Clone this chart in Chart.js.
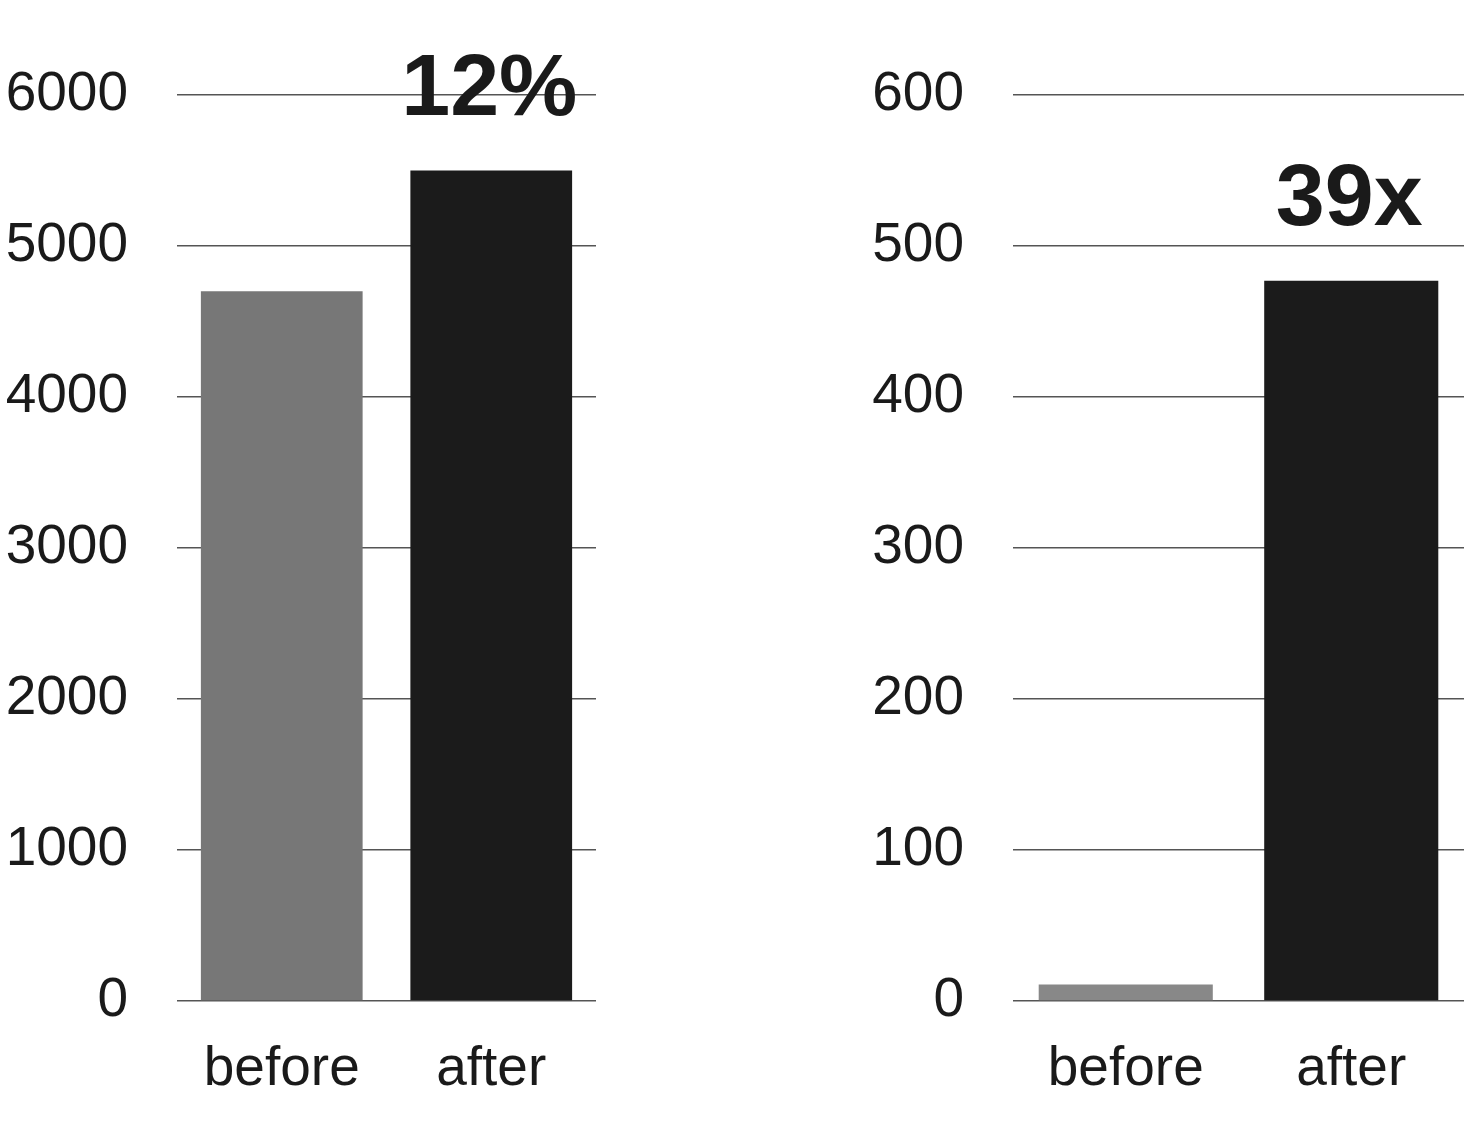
<!DOCTYPE html>
<html>
<head>
<meta charset="utf-8">
<script src="https://cdn.jsdelivr.net/npm/chart.js@4/dist/chart.umd.min.js"></script>
<style>
  html, body { margin: 0; padding: 0; background: #fff; }
  body { width: 1476px; height: 1146px; position: relative; overflow: hidden; }
  .box { position: absolute; top: 0; height: 1146px; }
  #leftBox { left: 0; width: 610px; }
  #rightBox { left: 840px; width: 636px; }
</style>
</head>
<body>
<div class="box" id="leftBox"><canvas id="leftChart"></canvas></div>
<div class="box" id="rightBox"><canvas id="rightChart"></canvas></div>
<script>
// values
const categories = ["before", "after"];
const leftValues = [4700, 5500];
const rightValues = [11, 477];
const leftMax = 6000, leftStep = 1000;
const rightMax = 600, rightStep = 100;
const callouts = ["12%", "39x"];

const leftColors = ["#777777", "#1b1b1b"];
const rightColors = ["#888888", "#1b1b1b"];

const FONT = "'Liberation Sans', Arial, sans-serif";
Chart.defaults.font.family = FONT;
Chart.defaults.color = "#1a1a1a";

// big bold text above the "after" bar
const calloutPlugin = {
  id: "callout",
  afterDatasetsDraw(chart, args, opts) {
    const bar = chart.getDatasetMeta(0).data[1];
    const ctx = chart.ctx;
    ctx.save();
    ctx.font = "bold 88px " + FONT;
    ctx.fillStyle = "#1a1a1a";
    ctx.textAlign = "center";
    ctx.textBaseline = "alphabetic";
    ctx.fillText(opts.text, bar.x - 2, bar.y - 56);
    ctx.restore();
  }
};

function makeChart(id, values, colors, max, step, yWidth, padRight, text) {
  return new Chart(document.getElementById(id), {
    type: "bar",
    data: {
      labels: categories,
      datasets: [{
        data: values,
        backgroundColor: colors,
        borderWidth: 0,
        barPercentage: 0.772,
        categoryPercentage: 1
      }]
    },
    options: {
      responsive: true,
      maintainAspectRatio: false,
      animation: false,
      layout: { padding: { top: 95, right: padRight, bottom: 0, left: 0 } },
      plugins: {
        legend: { display: false },
        tooltip: { enabled: false },
        callout: { text: text }
      },
      scales: {
        x: {
          grid: { display: false, drawTicks: false },
          border: { display: false },
          ticks: { font: { size: 55 }, color: "#1a1a1a", padding: 36 },
          afterFit(scale) { scale.height = 145; }
        },
        y: {
          min: 0,
          max: max,
          ticks: {
            stepSize: step,
            font: { size: 55 },
            color: "#1a1a1a",
            padding: 49,
            callback: (v) => String(v)
          },
          grid: { color: "#555555", lineWidth: 1.6, drawTicks: false },
          border: { display: false },
          afterFit(scale) { scale.width = yWidth; }
        }
      }
    },
    plugins: [calloutPlugin]
  });
}

makeChart("leftChart", leftValues, leftColors, leftMax, leftStep, 177, 14, callouts[0]);
makeChart("rightChart", rightValues, rightColors, rightMax, rightStep, 173, 12, callouts[1]);
</script>
</body>
</html>
